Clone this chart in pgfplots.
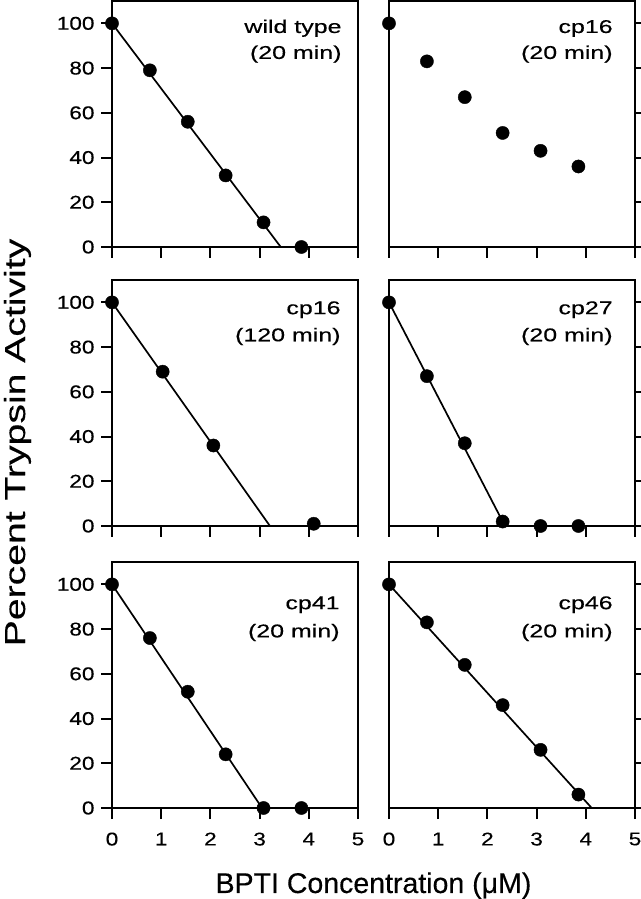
\documentclass[border=0pt]{standalone}
\usepackage{fontspec}
\setmainfont{Liberation Sans}[FakeBold=0.3]
\usepackage{graphicx}
\usepackage{pgfplots}
\usepackage{pgfplotstable}
\pgfplotsset{compat=1.18}

\pgfplotstableread{
x y
0 100
0.77 79
1.54 56
2.31 32
3.08 11
3.85 0
}\wt
\pgfplotstableread{
x y
0 100
0.77 83
1.54 67
2.31 51
3.08 43
3.85 36
}\cpA
\pgfplotstableread{
x y
0 100
1.03 69
2.06 36
4.10 1
}\cpB
\pgfplotstableread{
x y
0 100
0.77 67
1.54 37
2.31 2
3.08 0
3.85 0
}\cpC
\pgfplotstableread{
x y
0 100
0.77 76
1.54 52
2.31 24
3.08 0
3.85 0
}\cpD
\pgfplotstableread{
x y
0 100
0.77 83
1.54 64
2.31 46
3.08 26
3.85 6
}\cpE

\tikzset{lbl/.style={anchor=base east, font=\fontsize{18.5}{18.5}\selectfont, inner sep=0pt}}
\pgfplotsset{
 panel/.style={width=246pt,height=246pt,scale only axis,anchor=south west,
  xmin=0,xmax=5,ymin=0,ymax=110,
  xtick={0,1,2,3,4,5}, ytick={0,20,40,60,80,100},
  tick align=outside, major tick length=11pt,
  axis line style={line width=2pt}, tick style={line width=2pt,black},
  clip=false, xtick pos=left,
  /pgf/number format/assume math mode=true,
  tick label style={font=\fontsize{18.5}{18.5}\selectfont},
  xticklabel style={yshift=-10pt}, yticklabel style={xshift=-3pt}},
 leftp/.style={ytick pos=left, yticklabel={\scalebox{1.22}[1]{\pgfmathprintnumber{\tick}}}},
 rightp/.style={ytick pos=right, yticklabels={}},
 topp/.style={xticklabels={}},
 botp/.style={xticklabel={\scalebox{1.22}[1]{\pgfmathprintnumber{\tick}}}},
 dots/.style={only marks, mark=*, mark size=6.6pt, black},
 fitl/.style={black, line width=1.7pt, no marks},
}

\begin{document}
\begin{tikzpicture}
\path[use as bounding box] (0pt,0pt) rectangle (640pt,899pt);

% Row 1 left
\begin{axis}[panel,leftp,topp,at={(112pt,652pt)}]
\addplot[fitl] coordinates {(0,100) (3.43,0)};
\addplot[dots] table[x=x,y=y] {\wt};
\node[lbl] at (axis cs:4.67,95.7) {\scalebox{1.35}[1]{wild type}};
\node[lbl] at (axis cs:4.67,84.1) {\scalebox{1.35}[1]{(20 min)}};
\end{axis}

% Row 1 right
\begin{axis}[panel,rightp,topp,at={(389pt,652pt)}]
\addplot[dots] table[x=x,y=y] {\cpA};
\node[lbl] at (axis cs:4.55,95.7) {\scalebox{1.35}[1]{cp16}};
\node[lbl] at (axis cs:4.55,84.1) {\scalebox{1.35}[1]{(20 min)}};
\end{axis}

% Row 2 left
\begin{axis}[panel,leftp,topp,at={(112pt,373pt)}]
\addplot[fitl] coordinates {(0,100) (3.21,0)};
\addplot[dots] table[x=x,y=y] {\cpB};
\node[lbl] at (axis cs:4.65,94.7) {\scalebox{1.35}[1]{cp16}};
\node[lbl] at (axis cs:4.65,82.6) {\scalebox{1.35}[1]{(120 min)}};
\end{axis}

% Row 2 right
\begin{axis}[panel,rightp,topp,at={(389pt,373pt)}]
\addplot[fitl] coordinates {(0,100) (2.31,2)};
\addplot[dots] table[x=x,y=y] {\cpC};
\node[lbl] at (axis cs:4.55,94.7) {\scalebox{1.35}[1]{cp27}};
\node[lbl] at (axis cs:4.55,82.6) {\scalebox{1.35}[1]{(20 min)}};
\end{axis}

% Row 3 left
\begin{axis}[panel,leftp,botp,at={(112pt,91pt)}]
\addplot[fitl] coordinates {(0,100) (3.05,0)};
\addplot[dots] table[x=x,y=y] {\cpD};
\node[lbl] at (axis cs:4.63,88.9) {\scalebox{1.35}[1]{cp41}};
\node[lbl] at (axis cs:4.63,76.3) {\scalebox{1.35}[1]{(20 min)}};
\end{axis}

% Row 3 right
\begin{axis}[panel,rightp,botp,at={(389pt,91pt)}]
\addplot[fitl] coordinates {(0,100) (4.12,0)};
\addplot[dots] table[x=x,y=y] {\cpE};
\node[lbl] at (axis cs:4.55,88.9) {\scalebox{1.35}[1]{cp46}};
\node[lbl] at (axis cs:4.55,76.3) {\scalebox{1.35}[1]{(20 min)}};
\end{axis}

\node[rotate=90, anchor=base, font=\fontsize{29}{29}\selectfont, inner sep=0pt] at (25pt,456.5pt) {\scalebox{1.35}[1]{Percent Trypsin Activity}};
\node[anchor=base, font=\fontsize{28.5}{28.5}\selectfont, inner sep=0pt] at (373.5pt,6pt) {BPTI Concentration (μM)};
\end{tikzpicture}
\end{document}
